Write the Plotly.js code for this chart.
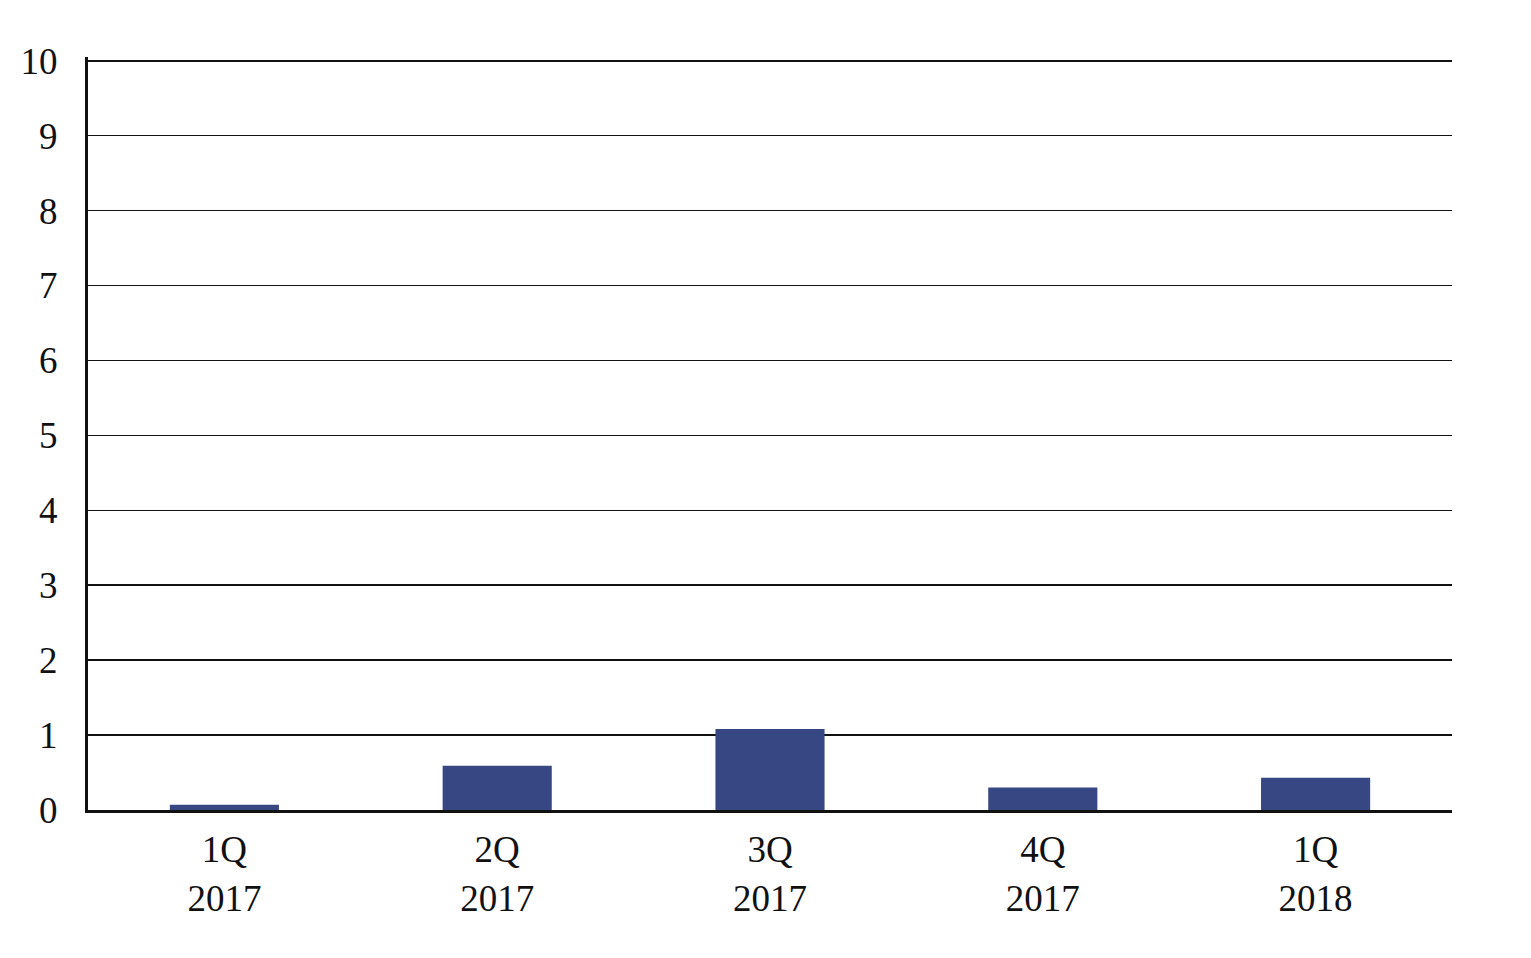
<!DOCTYPE html>
<html>
<head>
<meta charset="utf-8">
<script src="https://cdn.plot.ly/plotly-3.0.1.min.js"></script>
<style>html,body{margin:0;padding:0;background:#fff;}#chart{width:1531px;height:958px;}</style>
</head>
<body>
<div id="chart"></div>
<script>
const categories = ["1Q<br>2017", "2Q<br>2017", "3Q<br>2017", "4Q<br>2017", "1Q<br>2018"];
const values = [0.07, 0.59, 1.08, 0.30, 0.43];
const yTicks = [0,1,2,3,4,5,6,7,8,9,10];

const trace = {
  type: "bar",
  x: categories,
  y: values,
  marker: {color: "#374784", line: {width: 0}},
  hoverinfo: "skip"
};

const layout = {
  width: 1531, height: 958,
  margin: {l: 88, r: 79, t: 57, b: 148},
  paper_bgcolor: "#ffffff", plot_bgcolor: "#ffffff",
  bargap: 0.6,
  showlegend: false,
  font: {family: "Liberation Serif, Times New Roman, serif", size: 37, color: "#111"},
  xaxis: {
    type: "category",
    range: [-0.5, 4.5],
    showgrid: false,
    showline: true, linecolor: "#111", linewidth: 3,
    ticks: "", tickfont: {size: 37, family: "Liberation Serif, serif", color: "#111"},
    ticklabelstandoff: 5,
    fixedrange: true
  },
  yaxis: {
    range: [0, 10.05],
    tickvals: yTicks,
    ticktext: yTicks.map(String),
    showgrid: true, gridcolor: "#111", gridwidth: 1.5,
    showline: true, linecolor: "#111", linewidth: 3,
    zeroline: false,
    ticks: "", tickfont: {size: 37, family: "Liberation Serif, serif", color: "#111"},
    ticklabelstandoff: 20,
    fixedrange: true
  }
};

Plotly.newPlot("chart", [trace], layout, {displayModeBar: false, staticPlot: true});
</script>
</body>
</html>
